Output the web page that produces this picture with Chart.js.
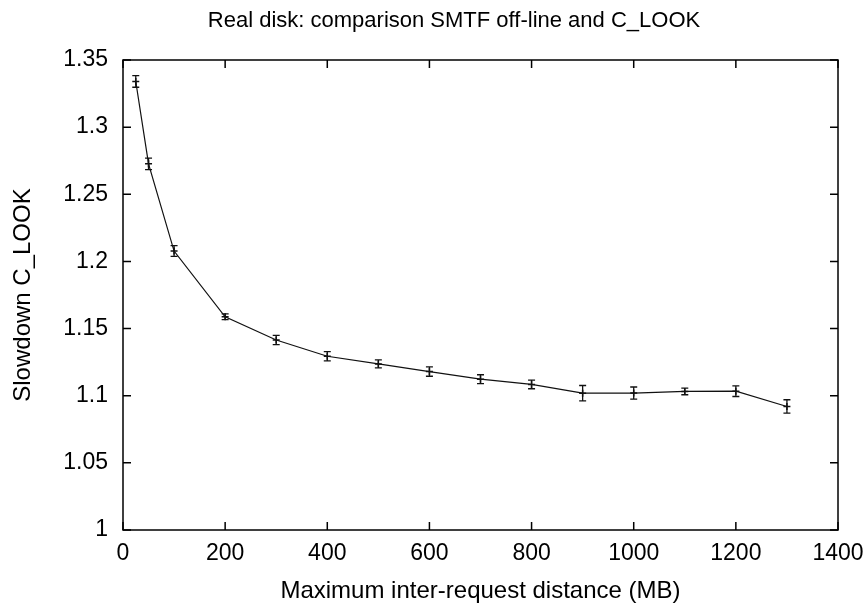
<!DOCTYPE html>
<html>
<head>
<meta charset="utf-8">
<script src="https://cdn.jsdelivr.net/npm/chart.js@4"></script>
<style>
  html, body { margin: 0; padding: 0; background: #fff; }
  #wrap { width: 868px; height: 603px; }
</style>
</head>
<body>
<div id="wrap"><canvas id="disk_chart" width="868" height="603"></canvas></div>
<script>
// values
const distanceMB = [25, 50, 100, 200, 300, 400, 500, 600, 700, 800, 900, 1000, 1100, 1200, 1300];
const slowdown = [1.334, 1.2727, 1.2077, 1.1588, 1.1415, 1.1294, 1.1237, 1.118, 1.1123, 1.1084, 1.1019, 1.102, 1.1032, 1.1034, 1.092];
const slowdownErr = [0.0043, 0.0043, 0.004, 0.0022, 0.0035, 0.0035, 0.003, 0.0035, 0.0033, 0.0032, 0.0057, 0.0045, 0.0025, 0.004, 0.005];
const xTicks = [0, 200, 400, 600, 800, 1000, 1200, 1400];
const yTicks = [1, 1.05, 1.1, 1.15, 1.2, 1.25, 1.3, 1.35];

const chartTitle = "Real disk: comparison SMTF off-line and C_LOOK";
const xTitle = "Maximum inter-request distance (MB)";
const yTitle = "Slowdown C_LOOK";

const FONT = "'Liberation Sans', Arial, Helvetica, sans-serif";
const INK = "#000";

// error bars + gnuplot style frame with inward ticks on all four sides
const gnuFrame = {
    id: "gnuFrame",
    afterDatasetsDraw(chart) {
        const ctx = chart.ctx;
        const xs = chart.scales.x, ys = chart.scales.y;
        ctx.save();
        ctx.strokeStyle = "#111";
        ctx.lineWidth = 1.3;
        for (let i = 0; i < distanceMB.length; i++) {
            const px = xs.getPixelForValue(distanceMB[i]);
            const top = ys.getPixelForValue(slowdown[i] + slowdownErr[i]);
            const bot = ys.getPixelForValue(slowdown[i] - slowdownErr[i]);
            ctx.beginPath();
            ctx.moveTo(px, top); ctx.lineTo(px, bot);
            ctx.moveTo(px - 3.5, top); ctx.lineTo(px + 3.5, top);
            ctx.moveTo(px - 3.5, bot); ctx.lineTo(px + 3.5, bot);
            ctx.stroke();
        }
        ctx.restore();
    },
    afterDraw(chart) {
        const ctx = chart.ctx;
        const a = chart.chartArea;
        const xs = chart.scales.x, ys = chart.scales.y;
        ctx.save();
        ctx.strokeStyle = INK;
        ctx.lineWidth = 1.5;
        ctx.strokeRect(a.left, a.top, a.right - a.left, a.bottom - a.top);
        const len = 8;
        ctx.beginPath();
        xTicks.forEach(function (v) {
            const px = xs.getPixelForValue(v);
            ctx.moveTo(px, a.bottom); ctx.lineTo(px, a.bottom - len);
            ctx.moveTo(px, a.top); ctx.lineTo(px, a.top + len);
        });
        yTicks.forEach(function (v) {
            const py = ys.getPixelForValue(v);
            ctx.moveTo(a.left, py); ctx.lineTo(a.left + len, py);
            ctx.moveTo(a.right, py); ctx.lineTo(a.right - len, py);
        });
        ctx.stroke();
        // title sits a bit left of the plot centre, like the gnuplot original
        ctx.fillStyle = INK;
        ctx.font = "22px " + FONT;
        ctx.textAlign = "center";
        ctx.textBaseline = "middle";
        ctx.fillText(chartTitle, 454, 21);
        ctx.restore();
    }
};

const points = distanceMB.map(function (d, i) { return { x: d, y: slowdown[i] }; });

new Chart(document.getElementById("disk_chart").getContext("2d"), {
    type: "line",
    data: {
        datasets: [{
            data: points,
            borderColor: "#111",
            borderWidth: 1.2,
            pointStyle: "cross",
            pointRadius: 3.5,
            pointBorderWidth: 1.5,
            pointBorderColor: "#111",
            fill: false,
            tension: 0
        }]
    },
    options: {
        responsive: false,
        animation: false,
        devicePixelRatio: 1,
        layout: { padding: { top: 60, right: 30, left: 0, bottom: 0 } },
        plugins: {
            legend: { display: false },
            tooltip: { enabled: false },
            title: { display: false }
        },
        scales: {
            x: {
                type: "linear",
                min: 0,
                max: 1400,
                afterFit: function (s) { s.height = 73; s.paddingLeft = 0; s.paddingRight = 0; },
                afterBuildTicks: function (s) { s.ticks = xTicks.map(function (v) { return { value: v }; }); },
                ticks: {
                    color: INK, font: { family: FONT, size: 23 }, padding: 10, maxRotation: 0, autoSkip: false,
                    callback: function (v) { return String(v); }
                },
                grid: { display: true, drawOnChartArea: false, drawTicks: false },
                border: { display: false },
                title: { display: true, text: xTitle, color: INK, font: { family: FONT, size: 24, lineHeight: 1 }, padding: { top: 0, bottom: 0 } }
            },
            y: {
                type: "linear",
                min: 1,
                max: 1.35,
                afterFit: function (s) { s.width = 123; s.paddingTop = 0; s.paddingBottom = 0; },
                afterBuildTicks: function (s) { s.ticks = yTicks.map(function (v) { return { value: v }; }); },
                ticks: {
                    color: INK, font: { family: FONT, size: 23 }, padding: 15, autoSkip: false,
                    callback: function (v) { return String(+v.toFixed(2)); }
                },
                grid: { display: true, drawOnChartArea: false, drawTicks: false },
                border: { display: false },
                title: { display: true, text: yTitle, color: INK, font: { family: FONT, size: 24, lineHeight: 1 }, padding: { top: 11, bottom: 0 } }
            }
        }
    },
    plugins: [gnuFrame]
});
</script>
</body>
</html>
